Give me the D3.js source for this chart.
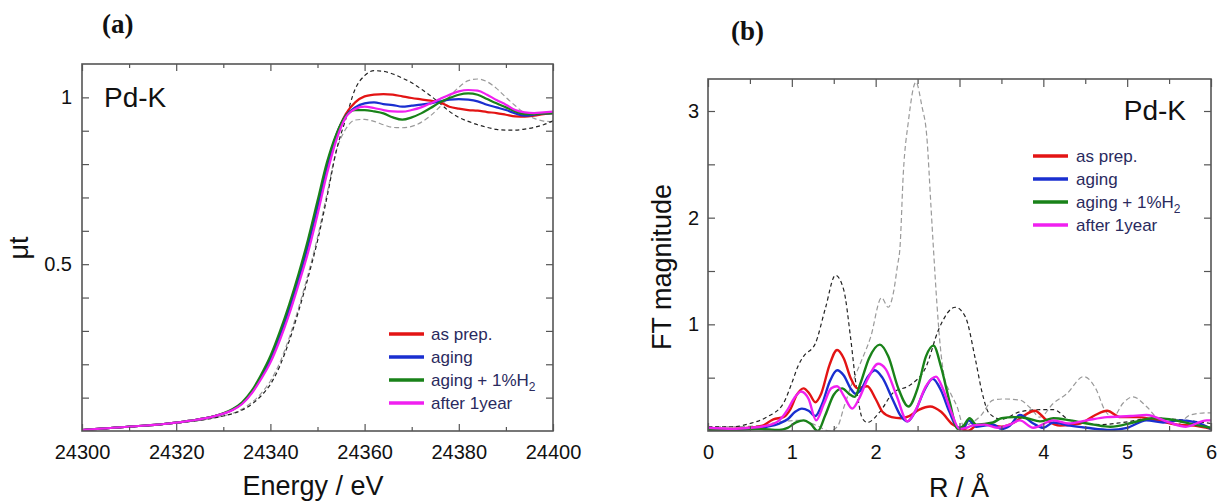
<!DOCTYPE html>
<html>
<head>
<meta charset="utf-8">
<script src="https://cdn.jsdelivr.net/npm/d3@7"></script>
<style>
  html, body { margin: 0; padding: 0; background: #fff; }
  svg { display: block; }
  text { font-family: "Liberation Sans", Arial, sans-serif; }
  text.panel-tag { font-family: "Liberation Serif", "Times New Roman", serif; font-weight: bold; }
</style>
</head>
<body>
<svg id="chart" width="1221" height="504"></svg>
<script>
// ---------------- DATA ----------------
// Panel (a): Pd-K XANES
const energies = d3.range(24300, 24401, 2);
const xanesAsPrep = [0.003,0.005,0.007,0.009,0.011,0.013,0.015,0.017,0.019,0.022,0.025,0.029,0.033,0.038,0.044,0.052,0.064,0.083,0.115,0.160,0.215,0.285,0.365,0.455,0.555,0.670,0.790,0.885,
  0.950,0.985,1.003,1.008,1.010,1.008,1.003,0.998,0.994,0.990,0.985,0.972,0.966,0.962,0.960,0.956,0.953,0.948,0.943,0.942,0.945,0.950,0.953];
const xanesAging = [0.003,0.005,0.007,0.009,0.011,0.013,0.015,0.017,0.019,0.022,0.025,0.029,0.033,0.038,0.044,0.052,0.064,0.083,0.116,0.162,0.218,0.288,0.368,0.458,0.560,0.675,0.795,0.887,
  0.945,0.970,0.982,0.985,0.980,0.977,0.972,0.975,0.978,0.982,0.988,0.993,0.995,0.993,0.988,0.978,0.970,0.962,0.952,0.945,0.948,0.952,0.953];
const xanesAgingH2 = [0.003,0.005,0.007,0.009,0.011,0.013,0.015,0.017,0.019,0.022,0.025,0.029,0.033,0.038,0.044,0.053,0.066,0.086,0.120,0.168,0.225,0.298,0.380,0.472,0.575,0.690,0.805,0.890,
  0.945,0.962,0.962,0.958,0.952,0.940,0.933,0.940,0.952,0.968,0.985,0.998,1.008,1.012,1.008,0.995,0.982,0.970,0.958,0.950,0.950,0.952,0.953];
const xanesAfter1y = [0.003,0.005,0.007,0.009,0.011,0.013,0.015,0.017,0.019,0.022,0.025,0.029,0.033,0.038,0.044,0.052,0.063,0.081,0.112,0.155,0.205,0.272,0.350,0.440,0.535,0.648,0.770,0.872,
  0.940,0.965,0.972,0.968,0.962,0.958,0.957,0.962,0.970,0.982,0.995,1.008,1.018,1.022,1.020,1.008,0.992,0.978,0.962,0.955,0.953,0.955,0.957];
const xanesRefBlack = [0.002,0.004,0.006,0.008,0.010,0.012,0.014,0.016,0.018,0.021,0.024,0.027,0.030,0.034,0.039,0.045,0.052,0.063,0.080,0.105,0.140,0.195,0.270,0.360,0.460,0.570,0.700,0.840,
  0.935,1.025,1.065,1.080,1.078,1.070,1.058,1.044,1.025,1.005,0.982,0.958,0.940,0.928,0.918,0.910,0.904,0.902,0.902,0.905,0.910,0.918,0.930];
const xanesRefGrey = [0.002,0.004,0.006,0.008,0.010,0.012,0.014,0.016,0.018,0.021,0.024,0.027,0.030,0.034,0.039,0.045,0.053,0.066,0.085,0.112,0.150,0.205,0.280,0.370,0.470,0.580,0.710,0.840,
  0.905,0.932,0.934,0.928,0.918,0.910,0.909,0.913,0.925,0.945,0.972,1.002,1.030,1.050,1.055,1.047,1.027,1.000,0.975,0.952,0.937,0.929,0.927];

// Panel (b): FT magnitude, [R, value] pairs
const ftAsPrep = [[0,0.02],[0.3,0.02],[0.5,0.03],[0.65,0.05],[0.78,0.11],[0.9,0.13],[0.98,0.2],[1.06,0.34],[1.14,0.40],[1.21,0.35],[1.28,0.27],[1.35,0.35],[1.45,0.62],[1.54,0.76],[1.62,0.68],[1.7,0.5],[1.78,0.40],[1.9,0.42],[2.0,0.3],[2.08,0.18],[2.19,0.13],[2.3,0.12],[2.4,0.14],[2.52,0.2],[2.65,0.23],[2.78,0.18],[2.92,0.06],[3.02,0.02],[3.1,0.0],[3.2,0.05],[3.35,0.06],[3.5,0.04],[3.65,0.08],[3.78,0.15],[3.9,0.19],[4.04,0.1],[4.2,0.05],[4.44,0.07],[4.62,0.15],[4.76,0.19],[4.92,0.13],[5.12,0.13],[5.3,0.11],[5.6,0.06],[5.8,0.05],[6.0,0.02]];
const ftAging = [[0,0.0],[0.3,0.01],[0.5,0.02],[0.7,0.04],[0.85,0.07],[0.95,0.11],[1.04,0.18],[1.12,0.21],[1.2,0.19],[1.28,0.14],[1.36,0.25],[1.45,0.46],[1.54,0.57],[1.62,0.52],[1.7,0.4],[1.76,0.35],[1.82,0.38],[1.9,0.5],[1.99,0.57],[2.08,0.5],[2.2,0.3],[2.3,0.14],[2.38,0.09],[2.47,0.18],[2.58,0.38],[2.68,0.49],[2.78,0.38],[2.88,0.18],[2.98,0.03],[3.05,0.03],[3.11,0.1],[3.2,0.04],[3.4,0.06],[3.5,0.02],[3.6,0.05],[3.72,0.15],[3.88,0.07],[4.0,0.03],[4.12,0.08],[4.32,0.05],[4.52,0.03],[4.8,0.01],[5.0,0.03],[5.23,0.1],[5.43,0.08],[5.63,0.1],[5.83,0.08],[6.0,0.02]];
const ftAgingH2 = [[0,0.01],[0.3,0.01],[0.6,0.02],[0.85,0.01],[0.95,0.03],[1.05,0.08],[1.14,0.1],[1.22,0.07],[1.31,0.0],[1.4,0.15],[1.5,0.34],[1.6,0.40],[1.68,0.35],[1.75,0.32],[1.82,0.45],[1.92,0.68],[2.05,0.81],[2.15,0.7],[2.27,0.4],[2.39,0.23],[2.5,0.4],[2.6,0.7],[2.69,0.80],[2.78,0.6],[2.88,0.28],[2.98,0.02],[3.05,0.05],[3.12,0.12],[3.2,0.06],[3.4,0.08],[3.5,0.12],[3.65,0.13],[3.8,0.12],[3.96,0.09],[4.12,0.12],[4.32,0.1],[4.6,0.06],[4.8,0.04],[5.07,0.08],[5.3,0.12],[5.5,0.11],[5.8,0.06],[6.0,0.03]];
const ftAfter1y = [[0,0.03],[0.3,0.02],[0.5,0.03],[0.7,0.05],[0.85,0.1],[0.95,0.2],[1.03,0.31],[1.11,0.37],[1.2,0.3],[1.29,0.1],[1.38,0.25],[1.47,0.4],[1.54,0.42],[1.62,0.33],[1.72,0.21],[1.8,0.3],[1.9,0.48],[2.03,0.63],[2.12,0.58],[2.25,0.33],[2.38,0.09],[2.48,0.2],[2.6,0.42],[2.72,0.51],[2.8,0.4],[2.9,0.18],[3.0,0.02],[3.08,0.03],[3.15,0.05],[3.3,0.06],[3.45,0.03],[3.6,0.06],[3.72,0.1],[3.88,0.03],[4.12,0.1],[4.3,0.07],[4.52,0.1],[4.76,0.13],[5.04,0.14],[5.23,0.15],[5.5,0.08],[5.7,0.04],[5.95,0.1],[6.0,0.1]];
const ftRefBlack = [[0,0.04],[0.3,0.04],[0.5,0.07],[0.7,0.13],[0.9,0.26],[1.0,0.45],[1.08,0.62],[1.14,0.70],[1.28,0.82],[1.4,1.15],[1.52,1.46],[1.62,1.32],[1.7,0.88],[1.77,0.41],[1.84,0.12],[1.9,0.08],[2.05,0.18],[2.21,0.36],[2.41,0.43],[2.6,0.6],[2.75,0.95],[2.95,1.16],[3.07,1.07],[3.19,0.67],[3.27,0.36],[3.35,0.17],[3.5,0.11],[3.72,0.18],[3.96,0.2],[4.12,0.2],[4.32,0.1],[4.7,0.06],[4.95,0.08],[5.3,0.12],[5.7,0.1],[6.0,0.07]];
const ftRefGrey = [[0,0.04],[0.3,0.04],[0.6,0.05],[0.9,0.09],[1.1,0.1],[1.3,0.05],[1.45,0.0],[1.55,0.05],[1.62,0.22],[1.72,0.45],[1.82,0.64],[1.94,0.88],[2.07,1.25],[2.15,1.16],[2.21,1.29],[2.26,1.55],[2.29,1.72],[2.33,2.42],[2.39,2.9],[2.48,3.27],[2.55,3.05],[2.61,2.76],[2.66,2.1],[2.69,1.7],[2.73,1.2],[2.77,0.8],[2.82,0.5],[2.89,0.36],[2.97,0.23],[3.05,0.05],[3.15,0.08],[3.25,0.14],[3.4,0.29],[3.52,0.3],[3.72,0.29],[3.84,0.22],[3.96,0.13],[4.12,0.26],[4.28,0.35],[4.48,0.51],[4.63,0.39],[4.73,0.2],[4.83,0.13],[4.95,0.26],[5.07,0.32],[5.23,0.23],[5.39,0.1],[5.59,0.06],[5.75,0.15],[5.95,0.17],[6.0,0.17]];

const seriesNames = ["as prep.", "aging", "aging + 1%H", "after 1year"];
const seriesColors = ["#e31414", "#1a2fd0", "#198219", "#f020f0"];

// ---------------- DRAW ----------------
const svg = d3.select("#chart");
const frameColor = "#555";
const legendTextColor = "#2a2a5e";

function frameAndTicks(g, x, y, opt) {
  const [x0, x1] = x.range(), [y0, y1] = y.range();
  const bot = g.append("g").attr("transform", `translate(0,${y0})`)
    .call(d3.axisBottom(x).tickValues(opt.xMajor).tickSize(-opt.majLen).tickPadding(14).tickFormat(opt.xFmt));
  const botMin = g.append("g").attr("transform", `translate(0,${y0})`)
    .call(d3.axisBottom(x).tickValues(opt.xMinor).tickSize(-opt.minLen).tickFormat(""));
  const top = g.append("g").attr("transform", `translate(0,${y1})`)
    .call(d3.axisTop(x).tickValues(opt.xMajor).tickSize(-opt.majLen).tickFormat(""));
  const topMin = g.append("g").attr("transform", `translate(0,${y1})`)
    .call(d3.axisTop(x).tickValues(opt.xMinor).tickSize(-opt.minLen).tickFormat(""));
  const left = g.append("g").attr("transform", `translate(${x0},0)`)
    .call(d3.axisLeft(y).tickValues(opt.yTicks).tickSize(-opt.yLen).tickPadding(opt.yPad).tickFormat(opt.yFmt));
  const right = g.append("g").attr("transform", `translate(${x1},0)`)
    .call(d3.axisRight(y).tickValues(opt.yTicks).tickSize(-opt.yLen).tickFormat(""));
  [bot, botMin, top, topMin, left, right].forEach(a => {
    a.select(".domain").remove();
    a.selectAll(".tick line").attr("stroke", frameColor).attr("stroke-width", 1.2);
    a.selectAll(".tick text").attr("fill", "#111").attr("font-size", 20);
  });
  g.append("rect").attr("x", x0).attr("y", y1).attr("width", x1 - x0).attr("height", y0 - y1)
    .attr("fill", "none").attr("stroke", frameColor).attr("stroke-width", 1.6);
}

function legend(g, x0, x1, tx, ys) {
  seriesNames.forEach((name, i) => {
    g.append("line").attr("x1", x0).attr("x2", x1).attr("y1", ys[i]).attr("y2", ys[i])
      .attr("stroke", seriesColors[i]).attr("stroke-width", 3.5);
    const t = g.append("text").attr("x", tx).attr("y", ys[i] + 6)
      .attr("font-size", 17).attr("fill", legendTextColor).text(name);
    if (i === 2) {
      t.append("tspan").attr("font-size", 12).attr("dy", 5).text("2");
    }
  });
}

// ---- Panel (a)
{
  const x = d3.scaleLinear().domain([24300, 24400]).range([82, 553]);
  const y = d3.scaleLinear().domain([0, 1.1]).range([431, 64]);
  const g = svg.append("g");
  g.append("clipPath").attr("id", "clipA").append("rect")
    .attr("x", 82).attr("y", 64).attr("width", 471).attr("height", 367);
  const line = d3.line().x(d => x(d[0])).y(d => y(d[1])).curve(d3.curveMonotoneX);
  const plot = g.append("g").attr("clip-path", "url(#clipA)");
  const toPairs = vals => energies.map((e, i) => [e, vals[i]]);
  plot.append("path").datum(toPairs(xanesRefGrey)).attr("d", line).attr("fill", "none")
    .attr("stroke", "#9a9a9a").attr("stroke-width", 1.2).attr("stroke-dasharray", "5,3");
  plot.append("path").datum(toPairs(xanesRefBlack)).attr("d", line).attr("fill", "none")
    .attr("stroke", "#222").attr("stroke-width", 1.2).attr("stroke-dasharray", "4,3");
  [xanesAsPrep, xanesAging, xanesAgingH2, xanesAfter1y].forEach((s, i) => {
    plot.append("path").datum(toPairs(s)).attr("d", line).attr("fill", "none")
      .attr("stroke", seriesColors[i]).attr("stroke-width", 2.2);
  });
  frameAndTicks(g, x, y, {
    xMajor: d3.range(24300, 24401, 20), xMinor: d3.range(24310, 24400, 20),
    xFmt: d3.format("d"), majLen: 7, minLen: 4,
    yTicks: d3.range(1, 11).map(v => v / 10), yLen: 7, yPad: 10,
    yFmt: v => (Math.abs(v - 0.5) < 1e-9 ? "0.5" : Math.abs(v - 1) < 1e-9 ? "1" : "")
  });
  g.append("text").attr("x", 104).attr("y", 107).attr("font-size", 28).attr("fill", "#111").text("Pd-K");
  legend(g, 389, 424, 431, [334, 357, 380, 403]);
  g.append("text").attr("x", 313).attr("y", 495).attr("text-anchor", "middle")
    .attr("font-size", 27).attr("fill", "#111").text("Energy / eV");
  g.append("text").attr("transform", "translate(28,248) rotate(-90)").attr("text-anchor", "middle")
    .attr("font-size", 27).attr("fill", "#111").text("μt");
  g.append("text").attr("class", "panel-tag").attr("x", 102).attr("y", 33).attr("font-size", 27)
    .attr("fill", "#111").text("(a)");
}

// ---- Panel (b)
{
  const x = d3.scaleLinear().domain([0, 6]).range([708, 1211]);
  const y = d3.scaleLinear().domain([0, 3.3]).range([431, 79]);
  const g = svg.append("g");
  g.append("clipPath").attr("id", "clipB").append("rect")
    .attr("x", 708).attr("y", 79).attr("width", 503).attr("height", 352);
  const line = d3.line().x(d => x(d[0])).y(d => y(d[1])).curve(d3.curveMonotoneX);
  const plot = g.append("g").attr("clip-path", "url(#clipB)");
  plot.append("path").datum(ftRefGrey).attr("d", line).attr("fill", "none")
    .attr("stroke", "#9a9a9a").attr("stroke-width", 1.2).attr("stroke-dasharray", "5,3");
  plot.append("path").datum(ftRefBlack).attr("d", line).attr("fill", "none")
    .attr("stroke", "#222").attr("stroke-width", 1.2).attr("stroke-dasharray", "4,3");
  [ftAsPrep, ftAging, ftAgingH2, ftAfter1y].forEach((s, i) => {
    plot.append("path").datum(s).attr("d", line).attr("fill", "none")
      .attr("stroke", seriesColors[i]).attr("stroke-width", 2.4);
  });
  frameAndTicks(g, x, y, {
    xMajor: d3.range(0, 7, 1), xMinor: d3.range(0.5, 6, 1),
    xFmt: d3.format("d"), majLen: 8, minLen: 5,
    yTicks: d3.range(1, 7).map(v => v / 2), yLen: 7, yPad: 9,
    yFmt: v => (Number.isInteger(v) ? String(v) : "")
  });
  g.append("text").attr("x", 1186).attr("y", 120).attr("text-anchor", "end")
    .attr("font-size", 28).attr("fill", "#111").text("Pd-K");
  legend(g, 1033, 1068, 1076, [156, 179, 202, 225]);
  g.append("text").attr("x", 959).attr("y", 497).attr("text-anchor", "middle")
    .attr("font-size", 27).attr("fill", "#111").text("R / Å");
  g.append("text").attr("transform", "translate(671,267) rotate(-90)").attr("text-anchor", "middle")
    .attr("font-size", 27).attr("fill", "#111").text("FT magnitude");
  g.append("text").attr("class", "panel-tag").attr("x", 731).attr("y", 40).attr("font-size", 27)
    .attr("fill", "#111").text("(b)");
}
</script>
</body>
</html>
